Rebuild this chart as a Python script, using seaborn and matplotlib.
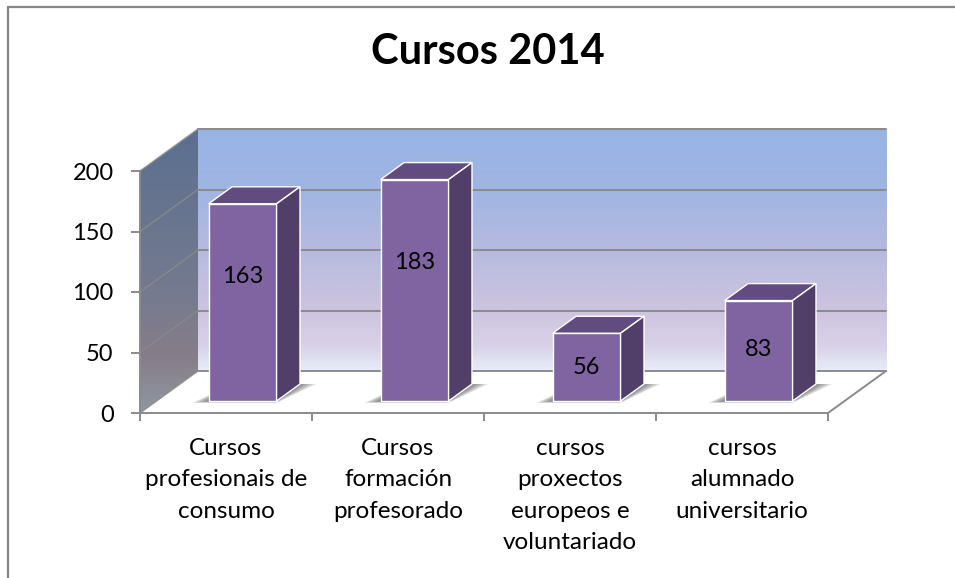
import numpy as np
import pandas as pd
import matplotlib.pyplot as plt
import seaborn as sns
from matplotlib.colors import LinearSegmentedColormap
from matplotlib.patches import Polygon
from matplotlib.lines import Line2D

# chart data
categories = ["Cursos\nprofesionais de\nconsumo",
              "Cursos\nformación\nprofesorado",
              "cursos\nproxectos\neuropeos e\nvoluntariado",
              "cursos\nalumnado\nuniversitario"]
values = [163, 183, 56, 83]
y_ticks = [0, 50, 100, 150, 200]
chart_title = "Cursos 2014"

# layout of the 955x578 picture (pixels)
W, H = 955, 578
PX_CAT = 172.0            # px per category on the front axis
PX_VAL = 1.21             # px per unit on the value axis
DX = 58 / PX_CAT          # depth shift, category units
DY = 42 / PX_VAL          # depth shift, value units
F0, F1 = 0.286, 0.69      # bar front / back inside the depth
BAR_W = 0.395
GRID = "#8a8a8a"

sns.set_theme(style="white")
plt.rcParams["font.family"] = ["Lato", "DejaVu Sans"]

df = pd.DataFrame({"curso": categories, "valor": values})

fig = plt.figure(figsize=(W / 100, H / 100), dpi=100)
ax = fig.add_axes([140 / W, (H - 413) / H, 688 / W, 242 / H])
ax.patch.set_visible(False)

# front faces of the bars
sns.barplot(data=df, x="curso", y="valor", color="#8064a2", saturation=1,
            width=BAR_W, ax=ax, zorder=5)
bars = list(ax.patches)

# back wall gradient
grad = np.linspace(0, 1, 256).reshape(-1, 1)
wall_cmap = LinearSegmentedColormap.from_list("wall", [
    (0, "#e8ecf9"), (0.1, "#d8d2e8"), (0.25, "#cdc4df"),
    (0.5, "#b6badf"), (0.75, "#a0b5e3"), (1, "#98b4e6")])
im = ax.imshow(grad, cmap=wall_cmap, origin="lower", aspect="auto", zorder=0,
               extent=[-0.5 + DX, 3.5 + DX, DY, 200 + DY])
im.set_clip_on(False)

# left wall gradient, clipped to its parallelogram
side_cmap = LinearSegmentedColormap.from_list("side", [
    (0, "#8f98a2"), (0.2, "#867d89"), (0.45, "#737a90"), (1, "#5b6f8f")])
left_wall = Polygon([(-0.5, 0), (-0.5, 200), (-0.5 + DX, 200 + DY), (-0.5 + DX, DY)],
                    closed=True, transform=ax.transData)
im2 = ax.imshow(grad, cmap=side_cmap, origin="lower", aspect="auto", zorder=0,
                extent=[-0.5, -0.5 + DX, 0, 200 + DY])
im2.set_clip_path(left_wall)
im2.set_clip_box(fig.bbox)

# gridlines on back and left walls, floor edges
for v in y_ticks:
    ax.plot([-0.5 + DX, 3.5 + DX], [v + DY, v + DY], color=GRID, lw=1.4,
            clip_on=False, zorder=1)
    ax.plot([-0.5, -0.5 + DX], [v, v + DY], color=GRID, lw=1.1, alpha=0.8,
            clip_on=False, zorder=1)
ax.plot([3.5, 3.5 + DX], [0, DY], color=GRID, lw=1.4, clip_on=False, zorder=1)

# side, top and soft shadow of each bar
d = F1 - F0
for bar, v in zip(bars, values):
    x1 = bar.get_x() + F0 * DX
    y1 = F0 * DY
    w, h = bar.get_width(), bar.get_height()
    bar.set_x(x1)
    bar.set_y(y1)
    bar.set_edgecolor("white")
    bar.set_linewidth(1.0)
    bar.set_clip_on(False)
    top = y1 + h

    for k in range(6):
        e = 0.095 * (6 - k) / 6
        shadow = Polygon([(x1 - e, y1 - 1.6 * (6 - k) / 6), (x1 + w, y1 - 1.6 * (6 - k) / 6),
                          (x1 + w + d * DX + e, y1 + d * DY),
                          (x1 + d * DX, y1 + d * DY)],
                         closed=True, facecolor="#3c3c3c", edgecolor="none",
                         alpha=0.13, clip_on=False, zorder=4)
        ax.add_patch(shadow)

    top_face = Polygon([(x1, top), (x1 + w, top), (x1 + w + d * DX, top + d * DY),
                        (x1 + d * DX, top + d * DY)], closed=True,
                       facecolor="#624b7e", edgecolor="white", lw=1.0,
                       clip_on=False, zorder=5)
    side_face = Polygon([(x1 + w, y1), (x1 + w, top), (x1 + w + d * DX, top + d * DY),
                         (x1 + w + d * DX, y1 + d * DY)], closed=True,
                        facecolor="#513f69", edgecolor="white", lw=1.0,
                        clip_on=False, zorder=5)
    ax.add_patch(top_face)
    ax.add_patch(side_face)
    label_y = y1 + v / 2 + 0.22 * max(v - 78, 0) + (3 if v > 150 and v < 170 else 0)
    ax.text(x1 + w / 2, label_y, str(v), ha="center", va="center",
            fontsize=17, color="black", zorder=6)

ax.set_xlim(-0.5, 3.5)
ax.set_ylim(0, 200)

# axes styling
for s in ["top", "right"]:
    ax.spines[s].set_visible(False)
for s in ["left", "bottom"]:
    ax.spines[s].set_color(GRID)
    ax.spines[s].set_linewidth(1.4)
    ax.spines[s].set_zorder(2)

ax.set_yticks(y_ticks)
ax.set_yticklabels([str(t) for t in y_ticks])
ax.tick_params(axis="y", left=True, length=6.5, width=1.4, color=GRID,
               labelsize=17, pad=12.5, labelcolor="black")
ax.set_xticks(range(len(categories)))
ax.set_xticklabels(categories, linespacing=1.61)
ax.set_xticks([-0.5, 0.5, 1.5, 2.5, 3.5], minor=True)
ax.tick_params(axis="x", which="major", length=0, labelsize=17.5, pad=18,
               labelcolor="black")
ax.tick_params(axis="x", which="minor", bottom=True, length=5.5, width=1.4,
               color=GRID)
ax.set_xlabel("")
ax.set_ylabel("")

fig.text(488 / W, 1 - 64 / H, chart_title, ha="center", va="baseline",
         fontsize=30, fontweight="bold", color="black")

# chart border (left and top edges are visible)
fig.add_artist(Line2D([8 / W, 8 / W], [0, 1 - 7 / H], color="#868686", lw=1.6))
fig.add_artist(Line2D([8 / W, 1], [1 - 7 / H, 1 - 7 / H], color="#868686", lw=1.6))

fig.savefig("out.png", dpi=100)
